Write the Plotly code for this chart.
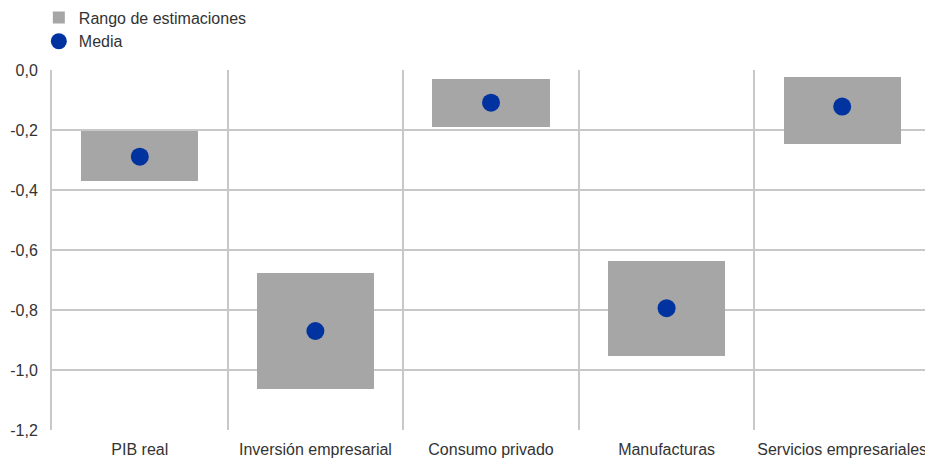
import plotly.graph_objects as go

categories = ["PIB real", "Inversión empresarial", "Consumo privado", "Manufacturas", "Servicios empresariales"]
range_low = [-0.370, -1.062, -0.191, -0.952, -0.246]
range_high = [-0.202, -0.678, -0.031, -0.635, -0.023]
mean_vals = [-0.289, -0.870, -0.109, -0.794, -0.122]
y_ticks = [0.0, -0.2, -0.4, -0.6, -0.8, -1.0, -1.2]
y_tick_labels = ["0,0", "-0,2", "-0,4", "-0,6", "-0,8", "-1,0", "-1,2"]

heights = [h - l for h, l in zip(range_high, range_low)]

font_family = "Liberation Sans, Arial, sans-serif"
grid_color = "#c8c8c8"

fig = go.Figure()
fig.add_trace(go.Bar(
    x=categories, y=heights, base=range_low, width=0.667,
    marker=dict(color="#a6a6a6", line=dict(width=0)),
    name="Rango de estimaciones",
))
fig.add_trace(go.Scatter(
    x=categories, y=mean_vals, mode="markers",
    marker=dict(color="#0033a0", size=18),
    name="Media",
))

# page body has an 8px default margin, so the figure is shrunk to fit the window
fig.update_layout(
    width=925, height=450,
    margin=dict(l=44, r=3, t=62, b=28, autoexpand=False),
    paper_bgcolor="white", plot_bgcolor="white",
    separators=",.",
    font=dict(family=font_family, size=16, color="#333333"),
    showlegend=True,
    legend=dict(x=-0.015, y=1.193, xanchor="left", yanchor="top",
                orientation="v", font=dict(size=16, color="#333333"),
                bgcolor="rgba(0,0,0,0)", tracegroupgap=0),
    bargap=0,
)
fig.update_xaxes(
    type="category", tickson="boundaries", showgrid=True, gridcolor=grid_color, gridwidth=2,
    showline=False, ticks="", ticklen=0, zeroline=False, tickangle=0,
    ticklabelstandoff=8,
    range=[-0.5, 4.5], tickfont=dict(size=16, color="#333333"),
)
fig.update_yaxes(
    range=[-1.2, 0.0], tickvals=y_ticks, ticktext=y_tick_labels,
    showgrid=True, gridcolor=grid_color, gridwidth=2, zeroline=False,
    showline=True, mirror=True, linecolor=grid_color, linewidth=2,
    ticks="", ticklabelstandoff=9, tickfont=dict(size=16, color="#333333"),
)

fig.write_html("out.html")
